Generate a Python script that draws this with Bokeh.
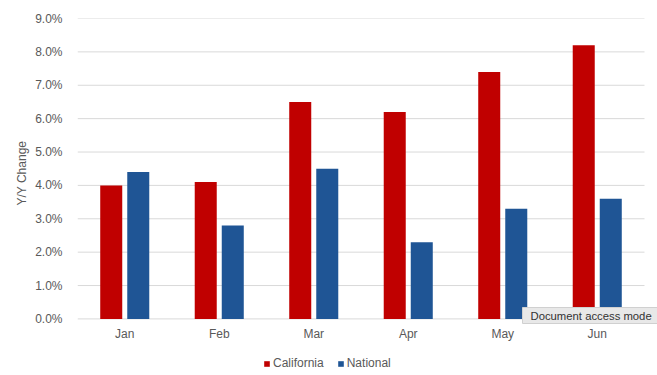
from bokeh.plotting import figure
from bokeh.models import (ColumnDataSource, Range1d, NumeralTickFormatter,
                          Legend, LegendItem, Label, FixedTicker, Title)
from bokeh.embed import file_html
from bokeh.resources import INLINE

months = ["Jan", "Feb", "Mar", "Apr", "May", "Jun"]
california = [0.040, 0.041, 0.065, 0.062, 0.074, 0.082]
national = [0.044, 0.028, 0.045, 0.023, 0.033, 0.036]
y_ticks = [0.0, 0.01, 0.02, 0.03, 0.04, 0.05, 0.06, 0.07, 0.08, 0.09]

RED = "#C00000"
BLUE = "#1F5595"
FONT = "Liberation Sans"
GREY = "#595959"
GRID = "#d9d9d9"

n = len(months)
centers = [i + 0.5 for i in range(n)]
src = ColumnDataSource(dict(x=centers, month=months, ca=california, nat=national))

# frame: x 77..657 (580 px), categories occupy 567 px; y 0..9% over 300 px
x_end = n * 580 / 567
y_top = y_ticks[-1]
y_start = -y_top * 56.5 / 300

p = figure(x_range=Range1d(0, x_end), y_range=Range1d(y_start, y_top),
           width=657, height=375, output_backend="svg", toolbar_location=None,
           min_border_left=77, min_border_right=0, min_border_top=18, min_border_bottom=0)
p.outline_line_color = None
p.xaxis.visible = False
p.xgrid.grid_line_color = None
p.ygrid.grid_line_color = None

# gridlines over the category span only
p.segment(x0=0, x1=n, y0=y_ticks, y1=y_ticks, line_color=GRID, line_width=1)

bw = 0.233
off = 0.143
r1 = p.vbar(x=[c - off for c in centers], top=california, width=bw,
            color=RED, line_color=None)
r2 = p.vbar(x=[c + off for c in centers], top=national, width=bw,
            color=BLUE, line_color=None)

p.text(x="x", y=0, text="month", source=src, y_offset=15,
       text_align="center", text_baseline="middle",
       text_font={"value": FONT}, text_font_size="12px", text_color=GREY)

p.yaxis.ticker = FixedTicker(ticks=y_ticks)
p.yaxis.formatter = NumeralTickFormatter(format="0.0%")
p.yaxis.axis_line_color = None
p.yaxis.major_tick_line_color = None
p.yaxis.minor_tick_line_color = None
p.yaxis.major_label_text_font = FONT
p.yaxis.major_label_text_font_size = "12px"
p.yaxis.major_label_text_color = GREY
p.yaxis.major_label_standoff = 9

ylab = Title(text="Y/Y Change", align="left", offset=170, standoff=8,
             text_font=FONT, text_font_size="12px", text_font_style="normal",
             text_color=GREY)
p.add_layout(ylab, "left")

legend = Legend(items=[LegendItem(label="California", renderers=[r1]),
                       LegendItem(label="National", renderers=[r2])],
                orientation="horizontal", location=(186, 5),
                label_text_font=FONT, label_text_font_size="12px",
                label_text_color=GREY, glyph_width=7, glyph_height=7,
                label_standoff=3, spacing=13, padding=0, margin=0,
                border_line_color=None, background_fill_alpha=0)
p.add_layout(legend, "center")

tip = Label(x=445, y=52, x_units="screen", y_units="screen",
            text="Document access mode", text_font=FONT,
            text_font_size="11.3px", text_color="#333333",
            background_fill_color="#e8e8e8", border_line_color="#d0d0d0",
            padding=dict(left=8, right=8, top=2, bottom=2))
p.add_layout(tip)

open("out.html", "w").write(file_html(p, INLINE))
